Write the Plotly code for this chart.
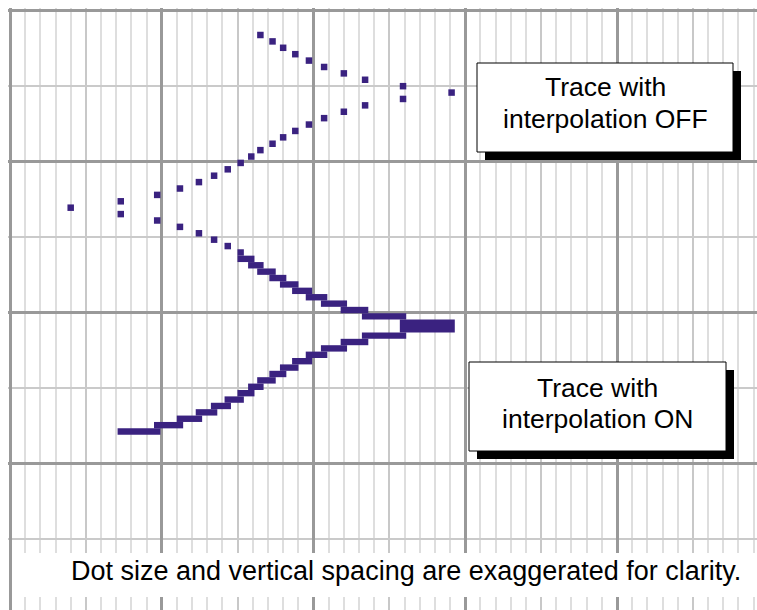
import plotly.graph_objects as go

# sweep rows run top to bottom; x is in minor grid divisions (10 per major)
OFF_ROWS = list(range(0, 34))
OFF_X = [16.5, 17.3, 18.0, 18.8, 19.7, 20.7, 22.0, 23.4, 25.9, 29.1,
         25.9, 23.4, 22.0, 20.7, 19.7, 18.8, 18.0, 17.3, 16.5, 15.9, 15.2,
         14.35, 13.45, 12.45, 11.2, 9.7, 7.3, 4.0,
         7.3, 9.7, 11.2, 12.45, 13.45, 14.35]
ON_ROWS = list(range(34, 63))
ON_X = [15.2, 15.9, 16.5, 17.3, 18.0, 18.8, 19.7, 20.7, 22.0, 23.4, 25.9, 29.1,
        25.9, 23.4, 22.0, 20.7, 19.7, 18.8, 18.0, 17.3, 16.5, 15.9, 15.2,
        14.35, 13.45, 12.45, 11.2, 9.7, 7.3]

DOT = '#3a2280'
FONT = 'Liberation Sans, Arial, Helvetica, sans-serif'
W, H = 757, 610
ML, MT = 8, 8
PX_PER_X = 15.175      # pixels per minor division
PX_PER_ROW = 6.396     # pixels per sweep row
X0 = -2 / PX_PER_X     # grid origin sits 2 px inside the plot area
Y_GRID0 = -3.909       # row of the top major grid line
Y_TOP = Y_GRID0 - 2 / PX_PER_ROW
Y_MAJOR = 23.61
X_MAX = X0 + (W - ML) / PX_PER_X
Y_BOT = Y_TOP + (H - MT) / PX_PER_ROW
DOT_HALF = 3.2 / PX_PER_X


def px_x(p):
    return (p - ML) / (W - ML)


def px_y(p):
    return 1 - (p - MT) / (H - MT)


# interpolation ON: each row is filled from the previous sample to the current one
prev = [ON_X[0]] + ON_X[:-1]
on_base = [min(a, b) - DOT_HALF for a, b in zip(prev, ON_X)]
on_len = [abs(a - b) + 2 * DOT_HALF for a, b in zip(prev, ON_X)]

fig = go.Figure()
fig.add_trace(go.Bar(y=ON_ROWS, x=on_len, base=on_base, orientation='h', width=1.0,
                     marker=dict(color=DOT, line=dict(width=0)), hoverinfo='skip'))
fig.add_trace(go.Scatter(x=OFF_X, y=OFF_ROWS, mode='markers',
                         marker=dict(symbol='square', size=6.5, color=DOT, line=dict(width=0)),
                         hoverinfo='skip'))
# carrier for the heavy major grid on the overlay axes
fig.add_trace(go.Scatter(x=[], y=[], xaxis='x2', yaxis='y2', hoverinfo='skip'))

shapes = []
annotations = []
callouts = [((477, 63, 733, 152), ('Trace with', 'interpolation OFF'), (87.5, 119)),
            ((469, 362, 726, 451), ('Trace with', 'interpolation ON'), (387.5, 419))]
for (x0, y0, x1, y1), lines, rows in callouts:
    shapes.append(dict(type='rect', xref='paper', yref='paper',
                       x0=px_x(x0 + 8), x1=px_x(x1 + 8), y0=px_y(y0 + 8), y1=px_y(y1 + 8),
                       fillcolor='black', line=dict(width=0)))
    shapes.append(dict(type='rect', xref='paper', yref='paper',
                       x0=px_x(x0), x1=px_x(x1), y0=px_y(y0), y1=px_y(y1),
                       fillcolor='white', line=dict(color='black', width=1)))
    for text, ty in zip(lines, rows):
        annotations.append(dict(text=text, xref='paper', yref='paper',
                                x=px_x((x0 + x1) / 2), y=px_y(ty),
                                xanchor='center', yanchor='middle', showarrow=False,
                                font=dict(family=FONT, size=26.5, color='black')))

shapes.append(dict(type='rect', xref='paper', yref='paper',
                   x0=px_x(14), x1=px_x(W), y0=px_y(597), y1=px_y(553),
                   fillcolor='white', line=dict(width=0)))
annotations.append(dict(text='Dot size and vertical spacing are exaggerated for clarity.',
                        xref='paper', yref='paper', x=px_x(406), y=px_y(571),
                        xanchor='center', yanchor='middle', showarrow=False,
                        font=dict(family=FONT, size=27, color='black')))

fig.update_layout(
    width=W, height=H,
    margin=dict(l=ML, r=0, t=MT, b=0),
    paper_bgcolor='white', plot_bgcolor='white',
    showlegend=False,
    xaxis=dict(range=[X0, X_MAX], dtick=5, tick0=0, showgrid=True,
               gridcolor='#c8c8c8', gridwidth=2,
               minor=dict(dtick=1, tick0=0, showgrid=True, gridcolor='#dedede', gridwidth=2),
               showticklabels=False, ticks='', zeroline=False, fixedrange=True),
    yaxis=dict(range=[Y_BOT, Y_TOP], dtick=Y_MAJOR / 2, tick0=Y_GRID0, showgrid=True,
               gridcolor='#cacaca', gridwidth=2,
               showticklabels=False, ticks='', zeroline=False, fixedrange=True),
    xaxis2=dict(overlaying='x', range=[X0, X_MAX], dtick=10, tick0=0, showgrid=True,
                gridcolor='#999999', gridwidth=3, showticklabels=False, ticks='',
                zeroline=False, fixedrange=True),
    yaxis2=dict(overlaying='y', range=[Y_BOT, Y_TOP], dtick=Y_MAJOR, tick0=Y_GRID0, showgrid=True,
                gridcolor='#999999', gridwidth=3, showticklabels=False, ticks='',
                zeroline=False, fixedrange=True),
    shapes=shapes,
    annotations=annotations,
)

fig.write_html("out.html", config={'displayModeBar': False},
               post_script="document.body.style.margin='0';")
